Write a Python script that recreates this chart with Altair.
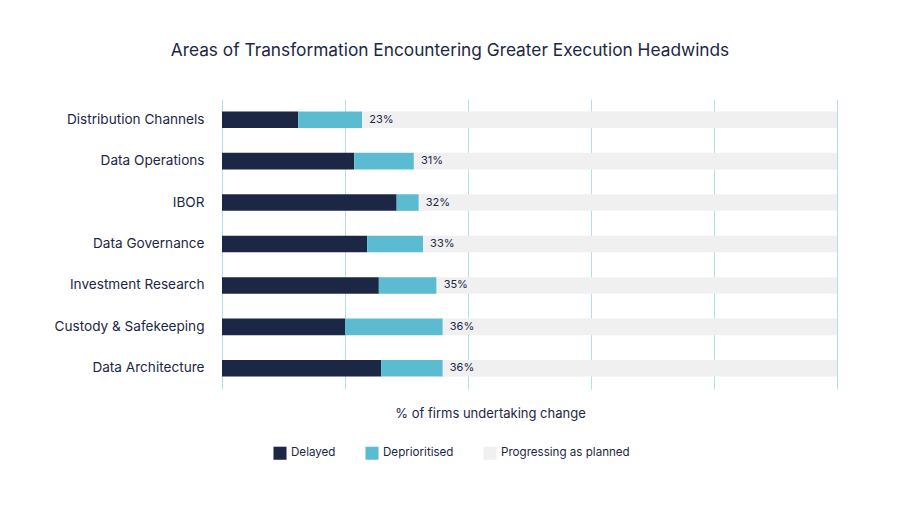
import altair as alt
import pandas as pd

areas = ["Distribution Channels", "Data Operations", "IBOR", "Data Governance",
         "Investment Research", "Custody & Safekeeping", "Data Architecture"]
delayed = [12.4, 21.5, 28.4, 23.6, 25.5, 20.0, 25.9]
deprioritised = [10.4, 9.7, 3.6, 9.1, 9.4, 15.9, 10.0]
statuses = ["Delayed", "Deprioritised", "Progressing as planned"]
colors = ["#1b2745", "#5bbcd1", "#f0f0f0"]

NAVY = "#1b2745"
FONT = "Inter"

rows = []
for a, d, p in zip(areas, delayed, deprioritised):
    rows.append({"area": a, "status": statuses[0], "value": d, "k": 0})
    rows.append({"area": a, "status": statuses[1], "value": p, "k": 1})
    rows.append({"area": a, "status": statuses[2], "value": 100 - d - p, "k": 2})
df = pd.DataFrame(rows)

totals = pd.DataFrame({
    "area": areas,
    "total": [d + p for d, p in zip(delayed, deprioritised)],
})
totals["label"] = totals["total"].round().astype(int).astype(str) + "%"

y_enc = alt.Y("area:N", sort=areas, title=None,
              scale=alt.Scale(paddingInner=0.6, paddingOuter=0.3),
              axis=alt.Axis(labelFontSize=13.6, labelColor=NAVY, labelFont=FONT,
                            labelPadding=18, ticks=False, domain=False))

bars = alt.Chart(df).mark_bar().encode(
    x=alt.X("value:Q", stack="zero",
            scale=alt.Scale(domain=[0, 100], nice=False),
            title="% of firms undertaking change",
            axis=alt.Axis(values=[0, 20, 40, 60, 80, 100], labels=False,
                          ticks=False, domain=False, grid=True,
                          gridColor="#b3e1e9", gridWidth=1,
                          titleFontSize=13, titleFontWeight="normal",
                          titleColor=NAVY, titleFont=FONT,
                          titlePadding=18, titleX=268)),
    y=y_enc,
    color=alt.Color("status:N", sort=statuses,
                    scale=alt.Scale(domain=statuses, range=colors),
                    legend=alt.Legend(title=None, orient="none", direction="horizontal",
                                      legendX=51, legendY=347,
                                      symbolType="square", symbolSize=170,
                                      symbolStrokeWidth=0, symbolOpacity=1,
                                      labelFontSize=11.6, labelColor=NAVY,
                                      labelFont=FONT, columnPadding=29,
                                      labelOffset=4)),
    order=alt.Order("k:Q"),
)

labels = alt.Chart(totals).mark_text(
    align="left", baseline="middle", dx=7, fontSize=11, color=NAVY, font=FONT
).encode(
    x="total:Q",
    y=alt.Y("area:N", sort=areas),
    text="label:N",
)

chart = alt.layer(bars, labels).properties(
    width=615, height=290,
    autosize=alt.AutoSizeParams(type="none"),
    padding={"left": 214, "top": 91, "right": 55, "bottom": 109},
    title=alt.TitleParams(
        "Areas of Transformation Encountering Greater Execution Headwinds",
        fontSize=17.3, fontWeight="normal", color=NAVY, font=FONT,
        anchor="middle", dx=-79.5, offset=40),
).configure_view(stroke=None)

chart.save("out.html", embed_options={"renderer": "svg", "actions": False})
